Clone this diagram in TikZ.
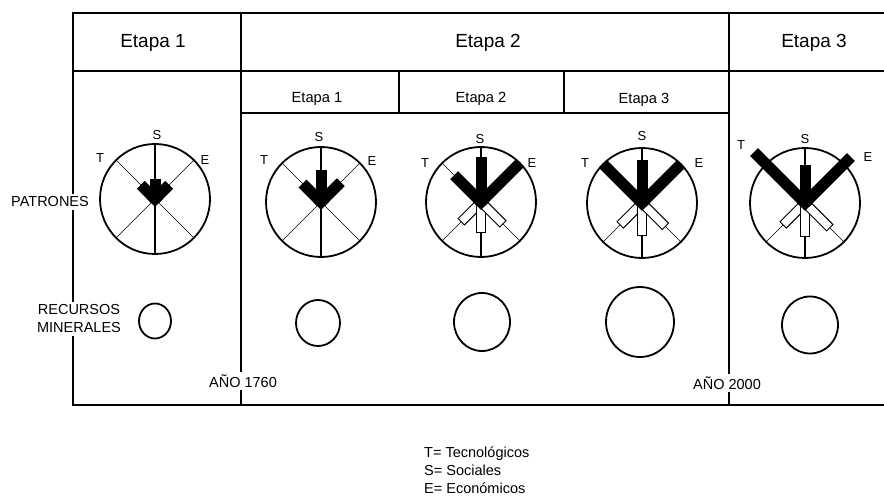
\documentclass[tikz,border=0pt]{standalone}
\usepackage{fontspec}
\setmainfont{Liberation Sans}

% one wheel of patterns: spokes, rim, optional white bars, black bars S/T/E
\newcommand\patron[5]{%
  \begin{scope}[shift={#1}]
    \draw[spoke] (-38.9,-38.9) -- (38.9,38.9);
    \draw[spoke] (38.9,-38.9) -- (-38.9,38.9);
    \draw[mainspoke] (0,-55) -- (0,55);
    \draw[ring] (0,0) circle[radius=55];
    #5
    \fill[rotate=90]  (0,-5.5) rectangle (#2,5.5);
    \fill[rotate=135] (0,-5.5) rectangle (#3,5.5);
    \fill[rotate=45]  (0,-5.5) rectangle (#4,5.5);
    \fill (0,-7.78) -- (7.78,0) -- (0,7.78) -- (-7.78,0) -- cycle;
  \end{scope}}
% hollow bars pointing down-left, down and down-right
\newcommand\wbars[3]{%
  \draw[whitebar,rotate=225] (0,-4.5) rectangle (#1,4.5);
  \draw[whitebar,rotate=270] (0,-4.5) rectangle (#2,4.5);
  \draw[whitebar,rotate=315] (0,-4.5) rectangle (#3,4.5);}

\begin{document}
\begin{tikzpicture}[x=1pt,y=-1pt,
  frame/.style={line width=1.6pt},
  ring/.style={line width=1.8pt},
  spoke/.style={line width=0.6pt},
  mainspoke/.style={line width=1.2pt},
  whitebar/.style={draw, fill=white, line width=0.9pt},
  head/.style={font=\fontsize{19}{22}\selectfont, inner sep=0pt},
  subhead/.style={font=\fontsize{14.7}{17}\selectfont, inner sep=0pt},
  lbl/.style={font=\fontsize{14.5}{18}\selectfont, fill=white, inner xsep=2pt, inner ysep=3pt},
  dir/.style={font=\fontsize{13}{15}\selectfont, inner sep=0pt},
  legend/.style={font=\fontsize{14.5}{18}\selectfont, inner sep=0pt, align=left},
]
\useasboundingbox (0,0) rectangle (884,497);

% table frame
\coordinate (TL) at (73,13);   \coordinate (TR) at (884,13);
\coordinate (HL) at (73,71);   \coordinate (HR) at (884,71);
\coordinate (BL) at (73,405);  \coordinate (BR) at (884,405);
\coordinate (D1t) at (241,13); \coordinate (D1b) at (241,405);
\coordinate (D2t) at (729,13); \coordinate (D2b) at (729,405);
\coordinate (SBl) at (241,113); \coordinate (SBr) at (729,113);
\coordinate (S1t) at (399,71); \coordinate (S1b) at (399,113);
\coordinate (S2t) at (564,71); \coordinate (S2b) at (564,113);

\draw[frame] (TR) -- (TL) -- (BL) -- (BR);
\draw[frame] (HL) -- (HR);
\draw[frame] (D1t) -- (D1b);
\draw[frame] (D2t) -- (D2b);
\draw[frame] (SBl) -- (SBr);
\draw[frame] (S1t) -- (S1b);
\draw[frame] (S2t) -- (S2b);

% headers
\node[head] (h1) at (153,43) {Etapa 1};
\node[head] (h2) at (488,43) {Etapa 2};
\node[head] (h3) at (814,43) {Etapa 3};
\node[subhead] (sh1) at (317,99) {Etapa 1};
\node[subhead] (sh2) at (481,99) {Etapa 2};
\node[subhead] (sh3) at (644,100) {Etapa 3};

% row labels and years
\node[lbl] (pat) at (50,202) {PATRONES};
\node[lbl, align=center] (rec) at (79,319) {RECURSOS\\MINERALES};
\node[lbl] (y1760) at (243,381) {AÑO 1760};
\node[lbl] (y2000) at (727,383) {AÑO 2000};

% pattern wheels
\patron{(155,199)}{20}{20}{20}{}
\patron{(321,202)}{32}{26}{28}{}
\patron{(481,202)}{45}{38}{54}{\wbars{28}{30}{31}}
\patron{(642,203)}{43}{55}{55}{\wbars{31}{32}{33}}
\patron{(805,203)}{38}{72}{65}{\wbars{31}{33}{35}}

% wheel letters
\node[dir] (s1) at (157,135) {S};
\node[dir] (t1) at (100,158) {T};
\node[dir] (e1) at (205,160) {E};
\node[dir] (s2) at (319,137) {S};
\node[dir] (t2) at (264,160) {T};
\node[dir] (e2) at (372,161) {E};
\node[dir] (s3) at (480,139) {S};
\node[dir] (t3) at (425,163) {T};
\node[dir] (e3) at (532,163) {E};
\node[dir] (s4) at (642,136) {S};
\node[dir] (t4) at (585,163) {T};
\node[dir] (e4) at (699,163) {E};
\node[dir] (s5) at (805,139) {S};
\node[dir] (t5) at (741,145) {T};
\node[dir] (e5) at (868,157) {E};

% mineral resources
\draw[ring] (155,321) ellipse[x radius=16, y radius=17.5];
\draw[ring] (318,323) ellipse[x radius=22, y radius=23];
\draw[ring] (482,322) ellipse[x radius=28, y radius=29];
\draw[ring] (640,322) ellipse[x radius=34, y radius=35];
\draw[ring] (810,325) ellipse[x radius=28, y radius=28.5];

% key
\node[legend, anchor=west] (key) at (424,470) {T= Tecnológicos\\S= Sociales\\E= Económicos};
\end{tikzpicture}
\end{document}
